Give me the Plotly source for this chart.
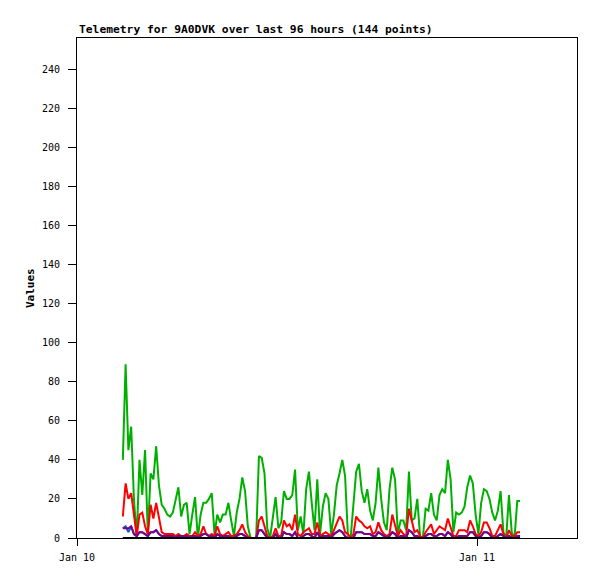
import pandas as pd
import plotly.graph_objects as go

start_time = "2024-01-10 02:45"
n_points = 144

green_vals = [40, 89, 45, 57, 20, 0, 40, 22, 45, 2,
              33, 30, 47, 27, 17, 15, 12, 11, 13, 20,
              26, 11, 17, 18, 2, 12, 21, 0, 12, 18,
              18, 20, 23, 2, 12, 8, 12, 12, 18, 9,
              1, 13, 20, 31, 24, 6, 0, 0, 0, 42,
              41, 33, 5, 0, 10, 21, 5, 8, 24, 20,
              20, 22, 35, 4, 11, 2, 25, 34, 18, 4,
              30, 2, 16, 23, 20, 2, 12, 27, 33, 40,
              32, 2, 0, 16, 34, 38, 24, 18, 25, 14,
              9, 18, 36, 20, 8, 4, 25, 36, 30, 2,
              9, 9, 4, 34, 9, 10, 20, 1, 0, 15,
              14, 23, 12, 9, 22, 25, 23, 40, 30, 3,
              13, 12, 13, 16, 26, 32, 28, 12, 2, 18,
              25, 24, 20, 13, 9, 14, 24, 3, 0, 22,
              3, 0, 19, 19]

red_vals = [11, 28, 20, 23, 12, 1, 12, 13, 6, 2,
            17, 10, 18, 10, 3, 2, 2, 2, 2, 1,
            2, 1, 1, 2, 1, 1, 3, 1, 2, 6,
            2, 1, 2, 1, 6, 2, 1, 2, 3, 1,
            1, 2, 4, 7, 3, 1, 0, 0, 0, 9,
            11, 6, 1, 0, 1, 5, 1, 1, 9, 6,
            7, 4, 12, 2, 1, 3, 4, 5, 2, 2,
            8, 1, 2, 3, 2, 1, 4, 8, 11, 9,
            3, 2, 0, 2, 11, 9, 8, 6, 5, 6,
            2, 3, 8, 4, 2, 1, 2, 12, 6, 1,
            4, 2, 1, 15, 9, 3, 4, 1, 0, 3,
            5, 7, 2, 4, 6, 5, 4, 10, 5, 1,
            1, 4, 4, 4, 3, 9, 6, 2, 1, 3,
            8, 8, 5, 1, 1, 4, 7, 2, 0, 4,
            1, 1, 3, 3]

blue_vals = [5, 6, 3, 6, 2, 1, 3, 3, 2, 1,
             3, 3, 4, 2, 1, 1, 1, 1, 1, 0,
             1, 1, 1, 1, 0, 1, 1, 0, 1, 2,
             2, 1, 1, 0, 2, 1, 1, 1, 1, 0,
             0, 1, 2, 2, 1, 0, 0, 0, 0, 4,
             4, 2, 0, 0, 0, 2, 0, 0, 3, 2,
             2, 1, 3, 0, 0, 1, 2, 2, 1, 0,
             3, 0, 1, 1, 1, 0, 2, 3, 4, 3,
             1, 0, 0, 0, 3, 3, 3, 2, 2, 2,
             1, 1, 3, 2, 1, 0, 1, 3, 2, 0,
             1, 1, 0, 4, 3, 1, 1, 0, 0, 1,
             2, 2, 1, 1, 2, 2, 1, 3, 2, 0,
             0, 1, 1, 1, 1, 3, 3, 1, 0, 1,
             3, 3, 2, 0, 0, 1, 2, 1, 0, 1,
             0, 0, 1, 1]

purple_vals = [5, 5, 5, 6, 2, 1, 3, 3, 2, 1,
               3, 3, 4, 2, 1, 1, 1, 1, 1, 0,
               1, 1, 1, 1, 0, 1, 1, 0, 1, 2,
               2, 1, 1, 0, 2, 1, 1, 1, 1, 0,
               0, 1, 2, 2, 1, 0, 0, 0, 0, 4,
               4, 2, 0, 0, 0, 2, 0, 0, 3, 2,
               2, 1, 3, 0, 0, 1, 2, 2, 1, 0,
               3, 0, 1, 1, 1, 0, 2, 3, 4, 3,
               1, 0, 0, 0, 3, 3, 3, 2, 2, 2,
               1, 1, 3, 2, 1, 0, 1, 3, 2, 0,
               1, 1, 0, 4, 3, 1, 1, 0, 0, 1,
               2, 2, 1, 1, 2, 2, 1, 3, 2, 0,
               0, 1, 1, 1, 1, 3, 3, 1, 0, 1,
               3, 3, 2, 0, 0, 1, 2, 1, 0, 1,
               0, 0, 1, 1]

black_vals = [0] * n_points

times = pd.date_range(start=start_time, periods=n_points, freq="10min")

x_range = ["2024-01-10 00:00", "2024-01-11 06:00"]
x_tickvals = ["2024-01-10", "2024-01-11"]
x_ticktext = ["Jan 10", "Jan 11"]
y_tickvals = [0, 20, 40, 60, 80, 100, 120, 140, 160, 180, 200, 220, 240]

title_text = "Telemetry for 9A0DVK over last 96 hours (144 points)"
y_title = "Values"

series = [
    ("green", green_vals, "#00b000"),
    ("red", red_vals, "#ff0000"),
    ("blue", blue_vals, "#0060c8"),
    ("purple", purple_vals, "#800080"),
    ("black", black_vals, "#000000"),
]

fig = go.Figure()
for name, vals, color in series:
    fig.add_trace(go.Scatter(x=times, y=vals, mode="lines", name=name,
                             line=dict(color=color, width=2),
                             hoverinfo="skip"))

mono = "DejaVu Sans Mono"
# the page body has an 8px margin, so the figure is 8px smaller and margins shifted
fig.update_layout(
    width=589, height=571,
    margin=dict(l=69, r=20, t=30, b=41),
    paper_bgcolor="white", plot_bgcolor="white",
    showlegend=False,
    font=dict(family=mono, size=10, color="black"),
    xaxis=dict(range=x_range, tickvals=x_tickvals, ticktext=x_ticktext,
               showgrid=False, zeroline=False, showline=True, mirror=True,
               linecolor="black", linewidth=1, ticks="outside", ticklen=7,
               tickcolor="black", tickwidth=1, ticklabelstandoff=3,
               tickfont=dict(family=mono, size=10, color="black")),
    yaxis=dict(range=[0, 256], tickvals=y_tickvals,
               showgrid=False, zeroline=False, showline=True, mirror=True,
               linecolor="black", linewidth=1, ticks="outside", ticklen=8,
               tickcolor="black", tickwidth=1, ticklabelstandoff=6,
               tickfont=dict(family=mono, size=10, color="black")),
    annotations=[
        dict(text="<b>" + title_text + "</b>", xref="paper", yref="paper",
             x=0, y=1, xanchor="left", yanchor="bottom", showarrow=False,
             font=dict(family=mono, size=11.3, color="black")),
        dict(text="<b>" + y_title + "</b>", xref="paper", yref="paper",
             x=-0.094, y=0.5, xanchor="center", yanchor="middle",
             textangle=-90, showarrow=False,
             font=dict(family=mono, size=11, color="black")),
    ],
)

fig.write_html("out.html")
